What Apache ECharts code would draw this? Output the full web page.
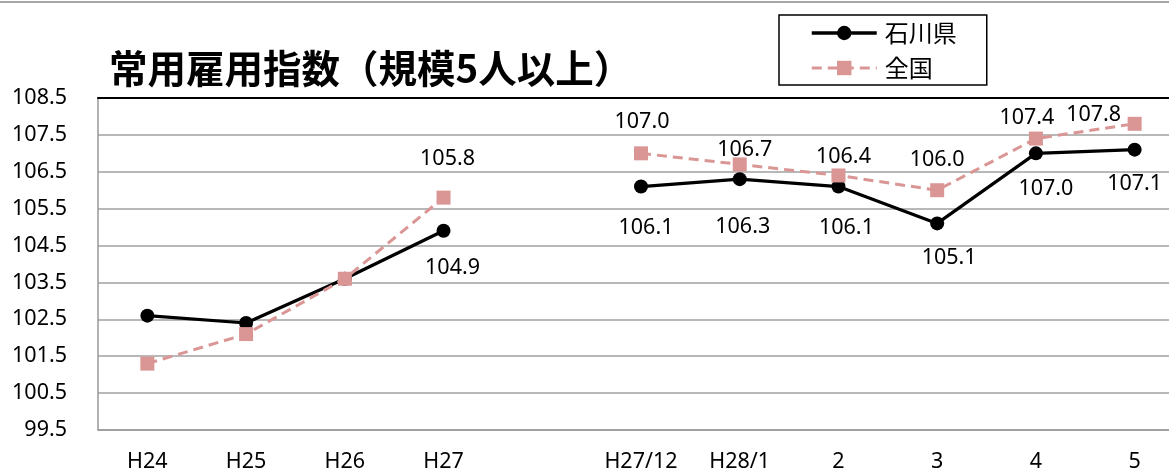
<!DOCTYPE html>
<html>
<head>
<meta charset="utf-8">
<script src="https://cdn.jsdelivr.net/npm/echarts@6/dist/echarts.min.js"></script>
<style>
html,body{margin:0;padding:0;background:#fff;}
#c{width:1169px;height:471px;}
</style>
</head>
<body>
<div id="c"></div>
<script>
// ---- data ----
const categories = ['H24','H25','H26','H27','','H27/12','H28/1','2','3','4','5'];
const ishikawa = [102.6, 102.4, 103.6, 104.9, null, 106.1, 106.3, 106.1, 105.1, 107.0, 107.1];
const zenkoku  = [101.3, 102.1, 103.6, 105.8, null, 107.0, 106.7, 106.4, 106.0, 107.4, 107.8];
const yTicks = {min: 99.5, max: 108.5, step: 1};
const seriesNames = ['石川県', '全国'];
const titleText = '常用雇用指数（規模5人以上）';

// ---- label placement (style) : [dx, dy] of label centre from point, null = no label ----
const ishikawaLabelOffset = [null, null, null, [9,37], null, [5,41], [3,48], [8,41], [12,34], [10,36], [0,34]];
const zenkokuLabelOffset  = [null, null, null, [4,-39], null, [1,-31], [5,-15], [5,-19], [0,-30], [-9,-21], [-41,-9]];

const SYM = 14;
const FS = 21.5;
const FONT = '"Noto Sans", "Noto Sans CJK JP", sans-serif';

function buildData(values, offsets) {
  return values.map((v, i) => {
    const off = offsets[i];
    if (v === null) return null;
    if (!off) return {value: v, label: {show: false}};
    return {
      value: v,
      label: {
        show: true,
        position: [SYM/2 + off[0], SYM/2 + off[1]],
        align: 'center',
        verticalAlign: 'middle',
        formatter: p => Number(p.value).toFixed(1)
      }
    };
  });
}

const chart = echarts.init(document.getElementById('c'), null, {renderer: 'canvas'});
chart.setOption({
  animation: false,
  backgroundColor: '#fff',
  textStyle: {fontFamily: FONT},
  title: {
    text: titleText,
    left: 104, top: 44,
    textStyle: {fontFamily: '"Noto Sans CJK JP", sans-serif', fontWeight: 'bold', fontSize: 38.5, color: '#000'}
  },
  legend: {
    orient: 'vertical',
    left: 779, top: 15,
    width: 207,
    padding: [6, 30, 5, 31],
    itemGap: 11,
    itemWidth: 65,
    itemHeight: 18,
    borderColor: '#000',
    borderWidth: 1.5,
    textStyle: {fontFamily: '"Noto Sans CJK JP", sans-serif', fontSize: 24, color: '#000', padding: [0,0,0,3]},
    data: [
      {name: seriesNames[0], lineStyle: {width: 3.5}},
      {name: seriesNames[1], lineStyle: {width: 3}}
    ]
  },
  graphic: [{
    type: 'rect', shape: {x: 0, y: 1, width: 1169, height: 2},
    style: {fill: '#a6a6a6'}, silent: true
  }],
  grid: {left: 98, top: 98, width: 1086, bottom: 41, containLabel: false, outerBoundsMode: 'none'},
  xAxis: [{
    type: 'category',
    data: categories,
    boundaryGap: true,
    axisLine: {lineStyle: {color: '#999', width: 1.5}},
    axisTick: {show: false},
    axisLabel: {color: '#000', fontSize: FS, fontFamily: FONT, margin: 21}
  }, {
    type: 'category',
    position: 'top',
    data: categories,
    axisLine: {lineStyle: {color: '#000', width: 2}},
    axisTick: {show: false},
    axisLabel: {show: false}
  }],
  yAxis: {
    type: 'value',
    min: yTicks.min, max: yTicks.max, interval: yTicks.step,
    axisLine: {show: true, lineStyle: {color: '#999', width: 1.5}},
    axisTick: {show: false},
    splitLine: {lineStyle: {color: '#a0a0a0', width: 1.5}},
    axisLabel: {color: '#000', fontSize: FS, fontFamily: FONT, margin: 31,
      formatter: v => v.toFixed(1)}
  },
  series: [{
    name: seriesNames[0],
    type: 'line',
    data: buildData(ishikawa, ishikawaLabelOffset),
    connectNulls: false,
    symbol: 'circle',
    symbolSize: SYM,
    lineStyle: {color: '#000', width: 3.2},
    itemStyle: {color: '#000'},
    label: {color: '#000', fontSize: FS, fontFamily: FONT},
    z: 2
  }, {
    name: seriesNames[1],
    type: 'line',
    data: buildData(zenkoku, zenkokuLabelOffset),
    connectNulls: false,
    symbol: 'rect',
    symbolSize: SYM,
    lineStyle: {color: '#d99694', width: 3, type: [10, 6]},
    itemStyle: {color: '#d99694'},
    label: {color: '#000', fontSize: FS, fontFamily: FONT},
    z: 3
  }]
});
</script>
</body>
</html>
